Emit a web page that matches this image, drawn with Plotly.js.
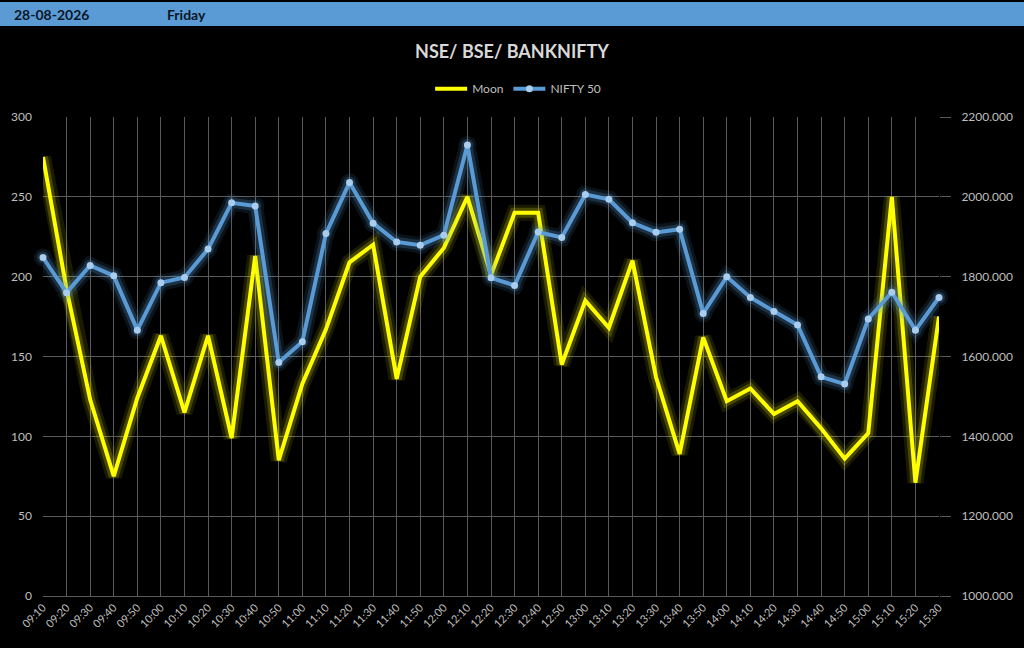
<!DOCTYPE html>
<html>
<head>
<meta charset="utf-8">
<script src="https://cdn.plot.ly/plotly-3.0.1.min.js"></script>
<style>
  html, body { margin:0; padding:0; background:#000; }
  #wrap { position:relative; width:1024px; height:648px; background:#000; overflow:hidden; }
  #chart { position:absolute; left:0; top:0; width:1024px; height:648px; }
  #header { position:absolute; left:0; top:2px; width:1024px; height:24px; background:#5B9BD5;
            font-family:Lato, 'Open Sans', sans-serif; font-weight:bold; font-size:14px; color:#0b1626; z-index:5; }
  #header span { position:absolute; top:4px; }
</style>
</head>
<body>
<div id="wrap">
  <div id="chart"></div>
  <div id="header"><span style="left:14px">28-08-2026</span><span style="left:167px">Friday</span></div>
</div>
<script>
const times = ['09:10','09:20','09:30','09:40','09:50','10:00','10:10','10:20','10:30','10:40','10:50',
  '11:00','11:10','11:20','11:30','11:40','11:50','12:00','12:10','12:20','12:30','12:40','12:50',
  '13:00','13:10','13:20','13:30','13:40','13:50','14:00','14:10','14:20','14:30','14:40','14:50',
  '15:00','15:10','15:20','15:30'];
const moon = [275,192,123,75,124,163,115,163,99,213,85,
  133,167,209,220,136,200,218,250,201,240,240,145,
  185,168,210,137,89,162,122,130,114,122,105,86,
  102,250,71,175];
const nifty50 = [1848,1760,1828,1802,1666,1785,1798,1869,1985,1977,1585,
  1637,1908,2036,1934,1887,1879,1904,2130,1797,1778,1912,1898,
  2006,1994,1935,1911,1919,1708,1800,1748,1713,1679,1549,1531,
  1694,1761,1666,1748];

const YEL = '#FFFF00', BLU = '#5B9BD5';
const glow = (y, color, axis, w, op, withMarker) => ({
  x: times, y: y, yaxis: axis, type: 'scatter', mode: withMarker ? 'lines+markers' : 'lines',
  line: {color: color, width: w}, marker: {color: color, size: w + 2}, opacity: op,
  showlegend: false, hoverinfo: 'skip', cliponaxis: false
});

const traces = [
  glow(moon, YEL, 'y', 16, 0.10, false),
  glow(moon, YEL, 'y', 10, 0.20, false),
  glow(nifty50, BLU, 'y2', 16, 0.12, true),
  glow(nifty50, BLU, 'y2', 10, 0.22, true),
  {x: times, y: moon, yaxis: 'y', type: 'scatter', mode: 'lines', name: 'Moon',
   line: {color: YEL, width: 4}, cliponaxis: false},
  {x: times, y: nifty50, yaxis: 'y2', type: 'scatter', mode: 'lines+markers', name: 'NIFTY 50',
   line: {color: BLU, width: 4}, marker: {color: '#A9CDEE', size: 7}, cliponaxis: false}
];

const grid = '#5a5a5a';
const tickFont = {family: 'Lato, "Open Sans", sans-serif', size: 12, color: '#bfbfbf'};
const layout = {
  width: 1024, height: 648,
  paper_bgcolor: '#000', plot_bgcolor: '#000',
  margin: {l: 42.5, r: 85.3, t: 117.3, b: 52.3},
  title: {text: '<b>NSE/ BSE/ BANKNIFTY</b>', xref: 'container', x: 0.5, xanchor: 'center',
          yref: 'container', y: 0.92, yanchor: 'middle',
          font: {family: 'Lato, "Open Sans", sans-serif', size: 18, color: '#d9d9d9'}},
  showlegend: true,
  legend: {orientation: 'h', xref: 'container', x: 0.506, xanchor: 'center',
           yref: 'container', y: 0.863, yanchor: 'middle', itemwidth: 32,
           font: {family: 'Lato, "Open Sans", sans-serif', size: 12, color: '#bfbfbf'},
           bgcolor: 'rgba(0,0,0,0)'},
  xaxis: {type: 'category', range: [0, 38], showgrid: true, gridcolor: grid, gridwidth: 1,
          tickangle: -45, tickfont: {family: 'Lato, "Open Sans", sans-serif', size: 11, color: '#bfbfbf'},
          showline: true, linecolor: grid, ticks: '', zeroline: false, fixedrange: true},
  yaxis: {range: [0, 300], dtick: 50, showgrid: true, gridcolor: grid, zeroline: false,
          tickfont: tickFont, ticks: '', ticklabelstandoff: 10, showline: false},
  yaxis2: {range: [1000, 2200], dtick: 200, overlaying: 'y', side: 'right', showgrid: false,
           zeroline: false, tickformat: '.3f', tickfont: tickFont,
           ticks: 'outside', ticklen: 11, tickcolor: grid, tickwidth: 1, ticklabelstandoff: 8}
};

Plotly.newPlot('chart', traces, layout, {displayModeBar: false, staticPlot: true});
</script>
</body>
</html>
